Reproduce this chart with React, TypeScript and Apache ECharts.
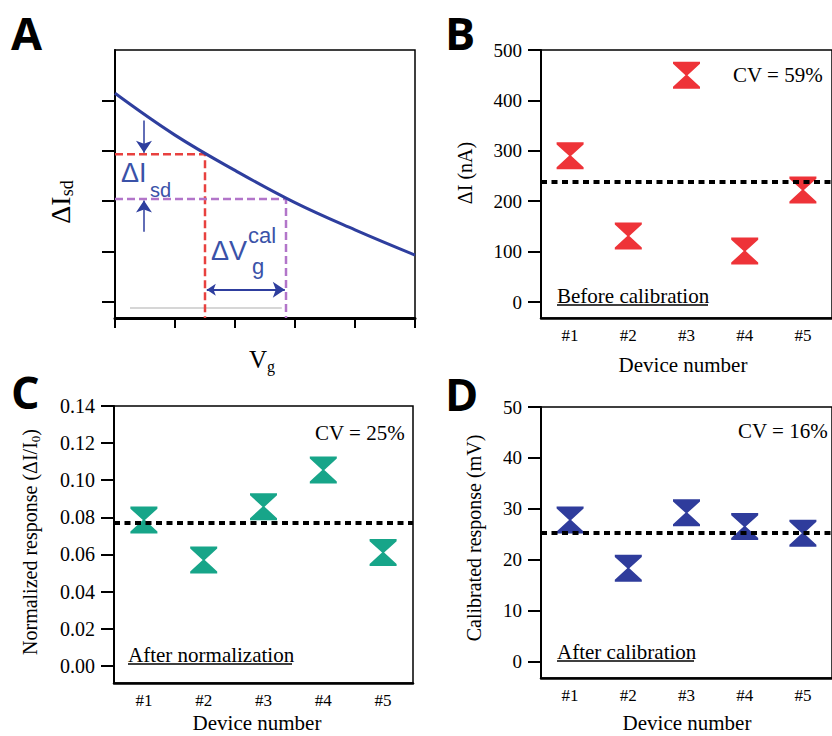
import React, { useEffect, useRef } from 'react';
import * as echarts from 'echarts';

// ---------- data ----------
const devices = ['#1', '#2', '#3', '#4', '#5'];
const beforeCalibrationNA = [290, 131, 450, 101, 222];
const afterNormalization = [0.0785, 0.057, 0.0857, 0.1055, 0.061];
const afterCalibrationMV = [27.8, 18.3, 29.2, 26.5, 25.2];
const meanBefore = 239;
const meanNormalized = 0.0771;
const meanCalibrated = 25.3;
const ticksB = [0, 100, 200, 300, 400, 500];
const ticksC = [0, 0.02, 0.04, 0.06, 0.08, 0.1, 0.12, 0.14];
const ticksD = [0, 10, 20, 30, 40, 50];
const cvLabels = ['CV = 59%', 'CV = 25%', 'CV = 16%'];
const panelNotes = ['Before calibration', 'After normalization', 'After calibration'];

// panel A schematic (arbitrary units)
const curveVg = [0, 1, 2, 3, 4, 5];
const curveIsd = [4.14, 3.31, 2.61, 1.97, 1.43, 0.93];
const ticksAY = [0, 1, 2, 3, 4];
const redPoint = [1.5, 2.93];
const purplePoint = [2.85, 2.04];
const grayBase = [[0.25, -0.12], [2.78, -0.12]];
const arrowDown = [[0.483, 3.6], [0.483, 2.96]];
const arrowUp = [[0.483, 1.39], [0.483, 2.01]];
const arrowH = [[1.53, 0.24], [2.83, 0.24]];

const SERIF = "'Liberation Serif', serif";
const SANS = "'Liberation Sans', sans-serif";
const RED = '#EE3338';
const TEAL = '#17A589';
const BLUE = '#2F3C9C';
const CURVE = '#2E3E9E';
const LBLUE = '#3A52A8';
const HOURGLASS = 'path://M0,0L26,0L26,2L14,13L26,24L26,26L0,26L0,24L12,13L0,2Z';

const AMIN = -0.32, AMAX = 5;

function catAxis(gridIndex: number) {
  return {
    type: 'category', gridIndex, data: devices, boundaryGap: true,
    axisLine: { onZero: false, lineStyle: { color: '#000', width: 2.5 } },
    axisTick: { length: 12, lineStyle: { color: '#000', width: 2 } },
    axisLabel: { color: '#000', fontFamily: SERIF, fontSize: 17, margin: 9 },
    splitLine: { show: false },
  };
}

function valAxis(gridIndex: number, min: number, max: number, ticks: number[], fmt: (v: number) => string, fontSize: number, margin: number) {
  return {
    type: 'value', gridIndex, min, max,
    axisLine: { show: true, onZero: false, lineStyle: { color: '#000', width: 2 } },
    axisTick: { show: true, customValues: ticks, length: 13, lineStyle: { color: '#000', width: 2 } },
    axisLabel: { customValues: ticks, formatter: fmt, color: '#000', fontFamily: SERIF, fontSize, margin },
    splitLine: { show: false },
  };
}

function meanLine(v: number) {
  return {
    symbol: 'none', silent: true, z: 5, precision: 6,
    label: { show: false },
    lineStyle: { color: '#000', width: 4, type: [6, 4.5] },
    data: [{ yAxis: v }],
  };
}

function scatter(idx: number, data: number[], color: string, mean: number) {
  return {
    type: 'scatter', xAxisIndex: idx, yAxisIndex: idx, data,
    symbol: HOURGLASS, symbolSize: [27, 27],
    itemStyle: { color, opacity: 1 },
    markLine: meanLine(mean),
  };
}

function txt(x: number, y: number, text: string, size: number, extra: any = {}) {
  return {
    type: 'text', x, y, silent: true, ...extra,
    style: { text, fontSize: size, fontFamily: SERIF, fill: '#000', align: 'left', verticalAlign: 'middle', ...(extra.style || {}) },
  };
}

function uline(x1: number, x2: number, y: number) {
  return { type: 'line', silent: true, shape: { x1, y1: y, x2, y2: y }, style: { stroke: '#000', lineWidth: 1.3 } };
}

function letter(x: number, y: number, t: string) {
  return { type: 'text', x, y, silent: true, style: { text: t, fontSize: 45, fontWeight: 'bold', fontFamily: "'Open Sans', sans-serif", fill: '#000', align: 'left', verticalAlign: 'middle' } };
}

export default function App() {
  const ref = useRef<HTMLDivElement>(null);
  useEffect(() => {
    if (!ref.current) return;
    const chart = echarts.init(ref.current, null, { renderer: 'svg' });
    const gridBase = { show: true, borderColor: '#000', borderWidth: 1.5, backgroundColor: 'transparent', containLabel: false };
    const option: any = {
      animation: false,
      backgroundColor: '#fff',
      grid: [
        { ...gridBase, left: 115, top: 50, width: 300, height: 268 },
        { ...gridBase, left: 541, top: 50, width: 301, height: 268 },
        { ...gridBase, left: 114, top: 406, width: 299, height: 277 },
        { ...gridBase, left: 541, top: 407, width: 301, height: 271 },
      ],
      xAxis: [
        {
          type: 'value', gridIndex: 0, min: 0, max: 5, interval: 1,
          axisLine: { onZero: false, lineStyle: { color: '#000', width: 3 } },
          axisTick: { length: 10, lineStyle: { color: '#000', width: 2 } },
          axisLabel: { show: false }, splitLine: { show: false },
        },
        catAxis(1), catAxis(2), catAxis(3),
      ],
      yAxis: [
        {
          type: 'value', gridIndex: 0, min: AMIN, max: AMAX,
          axisLine: { show: true, onZero: false, lineStyle: { color: '#000', width: 2 } },
          axisTick: { show: true, customValues: ticksAY, length: 13, lineStyle: { color: '#000', width: 2 } },
          axisLabel: { show: false }, splitLine: { show: false },
        },
        valAxis(1, -31.7, 500, ticksB, (v: number) => String(v), 19, 19),
        valAxis(2, -0.0093, 0.14, ticksC, (v: number) => v.toFixed(2), 20, 19),
        valAxis(3, -3.25, 50, ticksD, (v: number) => String(v), 19, 19),
      ],
      series: [
        {
          type: 'line', xAxisIndex: 0, yAxisIndex: 0, smooth: 0.4, showSymbol: false, silent: true,
          data: curveVg.map((v, i) => [v, curveIsd[i]]),
          lineStyle: { color: CURVE, width: 3 }, z: 4,
        },
        {
          type: 'line', xAxisIndex: 0, yAxisIndex: 0, showSymbol: false, silent: true,
          data: [[0, redPoint[1]], redPoint, [redPoint[0], AMIN]],
          lineStyle: { color: '#E8413F', width: 2.5, type: [8, 4] }, z: 3,
        },
        {
          type: 'line', xAxisIndex: 0, yAxisIndex: 0, showSymbol: false, silent: true,
          data: [[0, purplePoint[1]], purplePoint, [purplePoint[0], AMIN]],
          lineStyle: { color: '#B275C9', width: 2.5, type: [8, 4] }, z: 3,
        },
        {
          type: 'line', xAxisIndex: 0, yAxisIndex: 0, showSymbol: false, silent: true,
          data: grayBase, lineStyle: { color: '#C8C8C8', width: 1.5 }, z: 2,
        },
        {
          type: 'lines', coordinateSystem: 'cartesian2d', xAxisIndex: 0, yAxisIndex: 0, silent: true,
          symbol: ['none', 'arrow'], symbolSize: [9, 12],
          lineStyle: { color: CURVE, width: 1.5, opacity: 1 },
          data: [{ coords: arrowDown }, { coords: arrowUp }],
        },
        {
          type: 'lines', coordinateSystem: 'cartesian2d', xAxisIndex: 0, yAxisIndex: 0, silent: true,
          symbol: ['arrow', 'arrow'], symbolSize: [9, 12],
          lineStyle: { color: CURVE, width: 2, opacity: 1 },
          data: [{ coords: arrowH }],
        },
        scatter(1, beforeCalibrationNA, RED, meanBefore),
        scatter(2, afterNormalization, TEAL, meanNormalized),
        scatter(3, afterCalibrationMV, BLUE, meanCalibrated),
      ],
      graphic: [
        letter(11, 32, 'A'), letter(445, 32, 'B'), letter(11, 391, 'C'), letter(445, 393, 'D'),
        // panel A annotations
        txt(121, 173, 'ΔI', 27, { style: { fontFamily: SANS, fill: LBLUE } }),
        txt(150, 190, 'sd', 20, { style: { fontFamily: SANS, fill: LBLUE } }),
        txt(211, 251, 'ΔV', 27, { style: { fontFamily: SANS, fill: LBLUE } }),
        txt(248, 235, 'cal', 22, { style: { fontFamily: SANS, fill: LBLUE } }),
        txt(252, 266, 'g', 22, { style: { fontFamily: SANS, fill: LBLUE } }),
        // axis titles
        {
          type: 'text', x: 60, y: 202, rotation: Math.PI / 2, silent: true,
          style: {
            text: '{m|ΔI}{s|sd}', align: 'center', verticalAlign: 'middle',
            rich: {
              m: { fontSize: 28, fontFamily: SERIF, fill: '#000', lineHeight: 32 },
              s: { fontSize: 18, fontFamily: SERIF, fill: '#000', lineHeight: 15, verticalAlign: 'bottom' },
            },
          },
        },
        {
          type: 'text', x: 262, y: 359, silent: true,
          style: {
            text: '{m|V}{s|g}', align: 'center', verticalAlign: 'middle',
            rich: {
              m: { fontSize: 25, fontFamily: SERIF, fill: '#000', lineHeight: 30 },
              s: { fontSize: 16, fontFamily: SERIF, fill: '#000', lineHeight: 14, verticalAlign: 'bottom' },
            },
          },
        },
        txt(465, 173, 'ΔI (nA)', 20, { rotation: Math.PI / 2, style: { align: 'center' } }),
        txt(683, 365, 'Device number', 21, { style: { align: 'center' } }),
        {
          type: 'text', x: 30, y: 542, rotation: Math.PI / 2, silent: true,
          style: {
            text: '{m|Normalized response (ΔI/I}{s|0}{m|)}', align: 'center', verticalAlign: 'middle',
            rich: {
              m: { fontSize: 20, fontFamily: SERIF, fill: '#000', lineHeight: 24 },
              s: { fontSize: 13, fontFamily: SERIF, fill: '#000', lineHeight: 12, verticalAlign: 'bottom' },
            },
          },
        },
        txt(257, 723, 'Device number', 21, { style: { align: 'center' } }),
        txt(474, 538, 'Calibrated response (mV)', 20, { rotation: Math.PI / 2, style: { align: 'center' } }),
        txt(687, 723, 'Device number', 21, { style: { align: 'center' } }),
        // CV labels
        txt(733, 75, cvLabels[0], 21),
        txt(315, 433, cvLabels[1], 21),
        txt(738, 431, cvLabels[2], 21),
        // notes
        txt(557, 296, panelNotes[0], 21),
        uline(557, 708, 305),
        txt(128, 655, panelNotes[1], 21),
        uline(128, 292, 664),
        txt(557, 652, panelNotes[2], 21),
        uline(557, 694, 661),
      ],
    };
    chart.setOption(option);
    return () => chart.dispose();
  }, []);
  return <div ref={ref} style={{ position: 'fixed', left: 0, top: 0, width: 832, height: 736, background: '#fff' }} />;
}
